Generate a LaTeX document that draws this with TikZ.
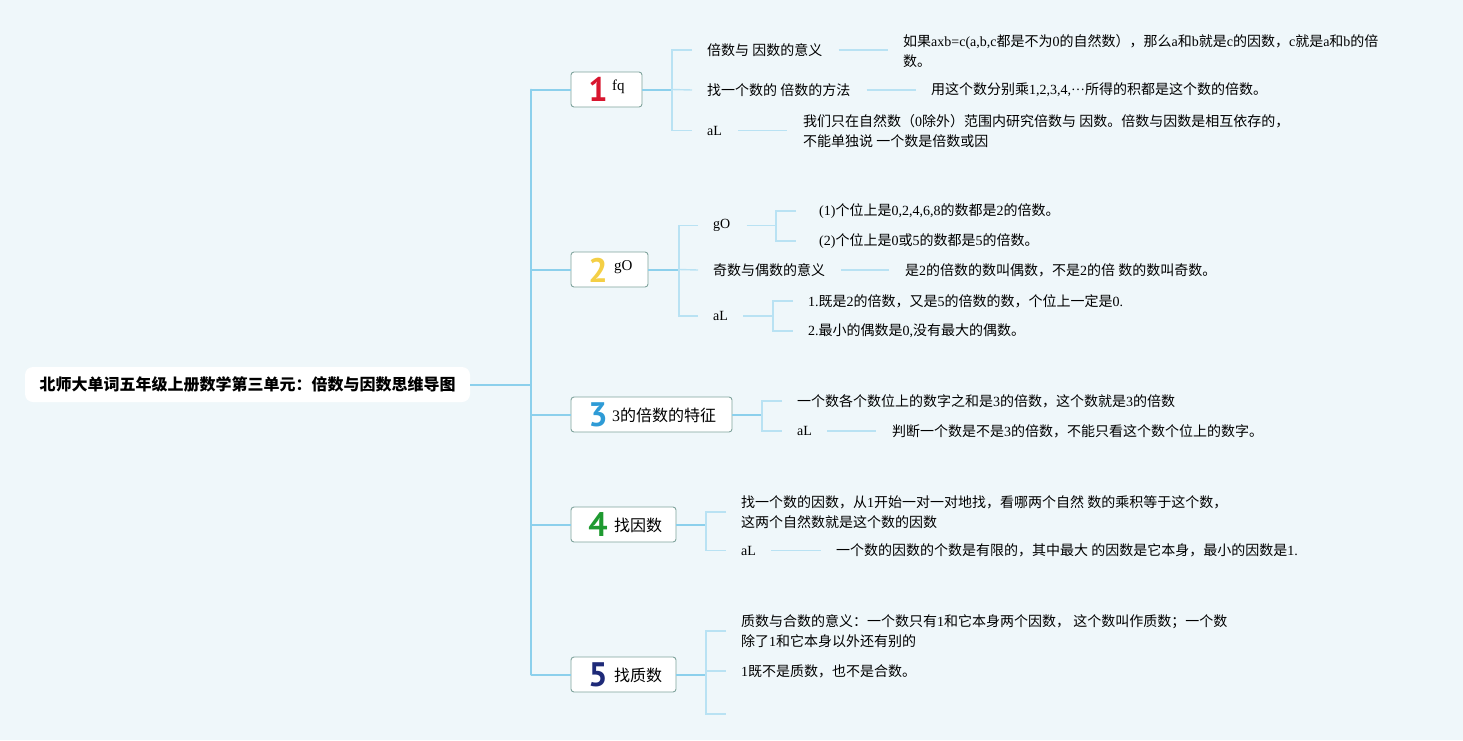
\documentclass[tikz,border=0pt]{standalone}
\usepackage{fontspec}
\setmainfont{Noto Sans CJK SC}
\newfontfamily\enfont{Liberation Serif}
\newfontfamily\numfont{PT Sans}
\newcommand\entxt[1]{{\enfont #1}}
\definecolor{bgc}{HTML}{EFF7FA}
\definecolor{trunkc}{HTML}{8CD0EC}
\definecolor{subc}{HTML}{B9E2F3}
\definecolor{boxc}{HTML}{7FA39C}
\definecolor{cone}{HTML}{D8152E}
\definecolor{ctwo}{HTML}{F4CF45}
\definecolor{cthree}{HTML}{2E9BD6}
\definecolor{cfour}{HTML}{1E9A30}
\definecolor{cfive}{HTML}{1E2A78}
\tikzset{
  trunk/.style={draw=trunkc, line width=2pt},
  sub/.style={draw=subc, line width=1.4pt},
  rootbox/.style={fill=white, rounded corners=8pt, minimum width=445pt, minimum height=35pt, inner sep=0pt, font=\bfseries\fontsize{16}{19}\selectfont},
  topbox/.style={draw=boxc, line width=0.9pt, fill=white, rounded corners=3pt, minimum height=35pt, inner sep=0pt},
  numtxt/.style={inner sep=0pt, font=\numfont\bfseries\fontsize{34}{36}\selectfont},
  lblcjk/.style={inner sep=0pt, anchor=west, font=\fontsize{16}{19}\selectfont},
  lblen/.style={inner sep=0pt, anchor=base west, font=\enfont\fontsize{15}{18}\selectfont},
  txt/.style={inner sep=0pt, anchor=west, align=left, font=\fontsize{14}{20}\selectfont},
  entx/.style={inner sep=0pt, anchor=west, font=\enfont\fontsize{14}{20}\selectfont},
}
\begin{document}
\begin{tikzpicture}[x=1pt, y=-1pt]
\useasboundingbox (0,0) rectangle (1463,740);
\fill[bgc] (0,0) rectangle (1463,740);

% root
\node[rootbox] (root) at (247.5,384.5) {北师大单词五年级上册数学第三单元：倍数与因数思维导图};

% main topic boxes
\node[topbox, minimum width=71pt] (b1) at (606.5,89.5) {};
\node[topbox, minimum width=77pt] (b2) at (609.5,269.5) {};
\node[topbox, minimum width=161pt] (b3) at (651.5,414.5) {};
\node[topbox, minimum width=105pt] (b4) at (623.5,524.5) {};
\node[topbox, minimum width=105pt] (b5) at (623.5,674.5) {};

\node[numtxt, text=cone] (n1) at (598,89.5) {1};
\node[numtxt, text=ctwo] (n2) at (598,270) {2};
\node[numtxt, text=cthree] (n3) at (598,414.5) {3};
\node[numtxt, text=cfour] (n4) at (598,524.5) {4};
\node[numtxt, text=cfive] (n5) at (598,674.5) {5};

\node[lblen] (t1) at (612,90.5) {fq};
\node[lblen] (t2) at (614,270) {gO};
\node[lblcjk] (t3) at (612,415) {\entxt{3}的倍数的特征};
\node[lblcjk] (t4) at (614,525) {找因数};
\node[lblcjk] (t5) at (614,675.5) {找质数};

% trunk
\coordinate (j0) at (531,384.5);
\coordinate (jt) at (531,89.5);
\coordinate (jb) at (531,674.5);
\draw[trunk] (root.east) -- (j0);
\draw[trunk, line cap=round] (jt) -- (jb);
\foreach \b in {b1,b2,b3,b4,b5} {
  \draw[trunk] (\b.west -| j0) -- (\b.west);
}

% ---------- branch 1
\node[txt] (l11) at (707,50) {倍数与 因数的意义};
\node[txt] (v11) at (903,51.5) {如果\entxt{axb=c(a,b,c}都是不为\entxt{0}的自然数），那么\entxt{a}和\entxt{b}就是\entxt{c}的因数，\entxt{c}就是\entxt{a}和\entxt{b}的倍\\数。};
\node[txt] (l12) at (707,90) {找一个数的 倍数的方法};
\node[txt] (v12) at (931,90) {用这个数分别乘\entxt{1,2,3,4,}\raisebox{4pt}{\entxt{…}}所得的积都是这个数的倍数。};
\node[entx] (l13) at (707,130.5) {aL};
\node[txt] (v13) at (803,131) {我们只在自然数（\entxt{0}除外）范围内研究倍数与 因数。倍数与因数是相互依存的，\\不能单独说 一个数是倍数或因};
\coordinate (k1) at (672,89.5);
\draw[trunk] (b1.east) -- (k1);
\draw[sub] ([xshift=-15pt]l11.west) -| (k1) |- ([xshift=-15pt]l13.west);
\draw[sub] (k1) -- ([xshift=-15pt]l12.west);
\draw[sub, shorten <=16pt, shorten >=15pt] (l11.east) -- (l11.east -| v11.west);
\draw[sub, shorten <=16pt, shorten >=15pt] (l12.east) -- (l12.east -| v12.west);
\draw[sub, shorten <=16pt, shorten >=16pt] (l13.east) -- (l13.east -| v13.west);

% ---------- branch 2
\node[entx] (l21) at (713,225.5) {gO};
\node[txt] (v211) at (819,211) {\entxt{(1)}个位上是\entxt{0,2,4,6,8}的数都是\entxt{2}的倍数。};
\node[txt] (v212) at (819,241) {\entxt{(2)}个位上是\entxt{0}或\entxt{5}的数都是\entxt{5}的倍数。};
\node[txt] (l22) at (713,270) {奇数与偶数的意义};
\node[txt] (v22) at (905,270) {是\entxt{2}的倍数的数叫偶数，不是\entxt{2}的倍 数的数叫奇数。};
\node[entx] (l23) at (713,316) {aL};
\node[txt] (v231) at (808,301) {\entxt{1.}既是\entxt{2}的倍数，又是\entxt{5}的倍数的数，个位上一定是\entxt{0.}};
\node[txt] (v232) at (808,331) {\entxt{2.}最小的偶数是\entxt{0,}没有最大的偶数。};
\coordinate (k2) at (679,269.5);
\coordinate (k21) at (776,225.5);
\coordinate (k23) at (773,316);
\draw[trunk] (b2.east) -- (k2);
\draw[sub] ([xshift=-15pt]l21.west) -| (k2) |- ([xshift=-15pt]l23.west);
\draw[sub] (k2) -- ([xshift=-15pt]l22.west);
\draw[sub, shorten <=16pt] (l21.east) -- (l21.east -| k21);
\draw[sub] ([xshift=-23pt]v211.west) -| (k21) |- ([xshift=-23pt]v212.west);
\draw[sub, shorten <=16pt, shorten >=16pt] (l22.east) -- (l22.east -| v22.west);
\draw[sub, shorten <=15pt] (l23.east) -- (l23.east -| k23);
\draw[sub] ([xshift=-15pt]v231.west) -| (k23) |- ([xshift=-15pt]v232.west);

% ---------- branch 3
\node[txt] (v31) at (797,401) {一个数各个数位上的数字之和是\entxt{3}的倍数，这个数就是\entxt{3}的倍数};
\node[entx] (l32) at (797,431) {aL};
\node[txt] (v32) at (892,431) {判断一个数是不是\entxt{3}的倍数，不能只看这个数个位上的数字。};
\coordinate (k3) at (762,414.5);
\draw[trunk] (b3.east) -- (k3);
\draw[sub] ([xshift=-15pt]v31.west) -| (k3) |- ([xshift=-15pt]l32.west);
\draw[sub, shorten <=15pt, shorten >=16pt] (l32.east) -- (l32.east -| v32.west);

% ---------- branch 4
\node[txt] (v41) at (741,512) {找一个数的因数，从\entxt{1}开始一对一对地找，看哪两个自然 数的乘积等于这个数，\\这两个自然数就是这个数的因数};
\node[entx] (l42) at (741,550.5) {aL};
\node[txt] (v42) at (836,550.5) {一个数的因数的个数是有限的，其中最大 的因数是它本身，最小的因数是\entxt{1.}};
\coordinate (k4) at (706,524.5);
\draw[trunk] (b4.east) -- (k4);
\draw[sub] ([xshift=-15pt]v41.west) -| (k4) |- ([xshift=-15pt]l42.west);
\draw[sub, shorten <=15pt, shorten >=15pt] (l42.east) -- (l42.east -| v42.west);

% ---------- branch 5
\node[txt] (v51) at (741,631) {质数与合数的意义：一个数只有\entxt{1}和它本身两个因数， 这个数叫作质数；一个数\\除了\entxt{1}和它本身以外还有别的};
\node[txt] (v52) at (741,671) {\entxt{1}既不是质数，也不是合数。};
\coordinate (k5) at (706,674.5);
\coordinate (e5) at (726,714);
\draw[trunk] (b5.east) -- (k5);
\draw[sub] ([xshift=-15pt]v51.west) -| (k5) |- (e5);
\draw[sub] (k5 |- v52.west) -- ([xshift=-15pt]v52.west);
\end{tikzpicture}
\end{document}
